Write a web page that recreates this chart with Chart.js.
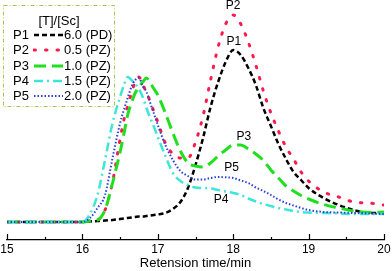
<!DOCTYPE html>
<html>
<head>
<meta charset="utf-8">
<script src="https://cdn.jsdelivr.net/npm/chart.js@4.4.0/dist/chart.umd.min.js"></script>
<style>
    body { margin: 0; background: #fff; font-family: "Liberation Sans", Arial, sans-serif; }
    #wrap { position: relative; width: 392px; height: 271px; }
    #legend { position: absolute; left: 3px; top: 5px; width: 112px; height: 102px; font-size: 13px; color: #000; }
    #legend svg { position: absolute; left: 0; top: 0; }
    #legend .title { position: absolute; left: 0; width: 112px; top: 8px; text-align: center; line-height: 15px; }
    #legend .row { position: absolute; left: 10px; height: 15px; line-height: 15px; white-space: nowrap; }
    #legend .row span, #legend .row canvas { position: absolute; top: 0; }
</style>
</head>
<body>
<div id="wrap">
    <canvas id="gpcChart"></canvas>
    <div id="legend"></div>
</div>
<script>
// retention time (min)
const times = [15, 15.5, 16.0, 16.1, 16.2, 16.3, 16.4, 16.5, 16.55, 16.6, 16.65, 16.7, 16.75, 16.8, 16.85, 16.9, 16.95,
    17.0, 17.1, 17.2, 17.3, 17.4, 17.5, 17.6, 17.7, 17.8, 17.9, 18.0, 18.1, 18.2, 18.3, 18.4, 18.5, 18.6, 18.7, 18.8, 18.9,
    19.0, 19.2, 19.4, 19.6, 19.8, 20.0];

// detector signal (arbitrary units)
const p1 = [18, 18, 18, 18.5, 19, 19.5, 20, 21, 21.5, 22, 22.5, 23, 23.5, 23.5, 24, 24.5, 25,
    25.5, 27, 31, 38, 52, 75, 102, 133, 158, 178, 190, 185, 172, 155, 132, 114, 96, 81, 68, 60,
    52, 42, 35, 30, 27, 27];
const p2 = [18, 18, 18, 19, 20, 30, 58, 101, 120, 134, 147, 158, 163, 155, 148, 138, 128,
    118, 97, 86, 82, 82, 98, 124, 160, 193, 216, 225, 216, 198, 175, 149, 127, 109, 93, 81, 68,
    59, 48, 43, 38, 37, 35];
const p3 = [18, 18, 18, 19, 20, 30, 57, 88, 106, 125, 137, 147, 153, 158, 162, 157, 151,
    145, 127, 107, 89, 77, 74, 73, 77, 84, 90, 95, 95, 91, 86, 79.5, 70, 62, 54, 49, 44.5,
    41, 35.5, 32, 29, 27.5, 28];
const p4 = [18, 18, 18, 26, 45, 80, 117, 143, 155, 163, 160, 156, 151, 143, 132, 122, 113,
    103, 84, 67, 59, 55, 52.5, 52, 51.5, 50, 48.5, 47, 45, 41.5, 38.5, 36, 34, 32, 30.5, 29, 28,
    27.5, 27, 26.5, 26, 26, 26];
const p5 = [18, 18, 18, 22, 32, 45, 82, 117, 130, 142, 153, 160, 162, 154, 148, 137, 126,
    115, 95, 80, 69, 64, 60.5, 60.5, 62, 63, 62.7, 62, 59.5, 57, 52.5, 49, 45, 40.5, 37, 34.5, 32,
    30, 28, 27.5, 27, 26.5, 26];

const seriesNames = ['P1', 'P2', 'P3', 'P4', 'P5'];
const ratios = ['6.0 (PD)', '0.5 (PZ)', '1.0 (PZ)', '1.5 (PZ)', '2.0 (PZ)'];
const legendTitle = '[T]/[Sc]';
const xTicks = [15, 16, 17, 18, 19, 20];

// peak labels placed in data units
const peakText = ['P2', 'P1', 'P3', 'P5', 'P4'];
const peakX = [18.0, 18.01, 18.14, 17.98, 17.84];
const peakY = [234, 198, 103, 72, 40];

const styles = [
    { color: '#000000', dash: [5, 3], width: 2.5, cap: 'butt' },
    { color: '#ff1a4b', dash: [1.5, 10], width: 3, cap: 'round' },
    { color: '#1ee01e', dash: [12, 6], width: 3, cap: 'butt' },
    { color: '#3ee6d8', dash: [9, 4, 2, 4], width: 2.5, cap: 'butt' },
    { color: '#2b3fd8', dash: [1.5, 2], width: 2, cap: 'butt' }
];

const allSeries = [p1, p2, p3, p4, p5];

const inwardTicks = {
    id: 'inwardTicks',
    afterDraw(chart) {
        const ctx = chart.ctx;
        const x = chart.scales.x;
        const bottom = chart.chartArea.bottom;
        ctx.save();
        ctx.strokeStyle = '#000';
        ctx.lineWidth = 1.2;
        for (let t = 15; t <= 20.001; t += 0.5) {
            const px = Math.round(x.getPixelForValue(t)) + 0.5;
            const len = Number.isInteger(Math.round(t * 10) / 10) ? 6 : 3;
            ctx.beginPath();
            ctx.moveTo(px, bottom);
            ctx.lineTo(px, bottom - len);
            ctx.stroke();
        }
        // peak labels
        ctx.fillStyle = '#000';
        ctx.font = '12px "Liberation Sans", Arial, sans-serif';
        ctx.textAlign = 'center';
        ctx.textBaseline = 'middle';
        peakText.forEach((txt, i) => {
            ctx.fillText(txt, x.getPixelForValue(peakX[i]), chart.scales.y.getPixelForValue(peakY[i]));
        });
        ctx.restore();
    }
};

function buildLegend() {
    const box = document.getElementById('legend');
    box.innerHTML = '<svg width="112" height="102"><rect x="0.5" y="0.5" width="111" height="101" fill="none" stroke="#a8c84a" stroke-width="1" stroke-dasharray="4 2 1 2"/></svg>';
    const title = document.createElement('div');
    title.className = 'title';
    title.textContent = legendTitle;
    box.appendChild(title);
    seriesNames.forEach((name, i) => {
        const row = document.createElement('div');
        row.className = 'row';
        row.style.top = (22 + i * 15.3) + 'px';
        const lab = document.createElement('span');
        lab.style.left = '0px';
        lab.textContent = name;
        const cv = document.createElement('canvas');
        cv.width = 30; cv.height = 15;
        cv.style.left = '20px';
        const c = cv.getContext('2d');
        const s = styles[i];
        c.strokeStyle = s.color;
        c.lineWidth = s.width;
        c.lineCap = s.cap;
        c.setLineDash(s.dash);
        c.beginPath();
        c.moveTo(1, 8);
        c.lineTo(30, 8);
        c.stroke();
        const val = document.createElement('span');
        val.style.left = '51px';
        val.textContent = ratios[i];
        row.appendChild(lab);
        row.appendChild(cv);
        row.appendChild(val);
        box.appendChild(row);
    });
}

function drawChart() {
    const ctx = document.getElementById('gpcChart').getContext('2d');
    new Chart(ctx, {
        type: 'line',
        data: {
            datasets: allSeries.map((vals, i) => ({
                label: seriesNames[i] + ' ' + ratios[i],
                data: times.map((t, k) => ({ x: t, y: vals[k] })),
                borderColor: styles[i].color,
                borderDash: styles[i].dash,
                borderWidth: styles[i].width,
                borderCapStyle: styles[i].cap,
                cubicInterpolationMode: 'monotone',
                pointRadius: 0,
                fill: false
            })).reverse()
        },
        options: {
            responsive: true,
            maintainAspectRatio: false,
            animation: false,
            layout: { padding: 0 },
            plugins: {
                legend: { display: false },
                tooltip: { enabled: false }
            },
            scales: {
                x: {
                    type: 'linear',
                    min: 15,
                    max: 20,
                    afterBuildTicks: axis => { axis.ticks = xTicks.map(v => ({ value: v })); },
                    afterFit: axis => {
                        axis.height = 31;
                        axis.paddingLeft = 7;
                        axis.paddingRight = 8;
                    },
                    grid: { display: false, drawTicks: false },
                    border: { display: true, color: '#000', width: 1.2 },
                    ticks: {
                        padding: 2,
                        color: '#000',
                        maxRotation: 0,
                        font: { family: '"Liberation Sans", Arial, sans-serif', size: 12 }
                    },
                    title: {
                        display: true,
                        text: 'Retension time/min',
                        color: '#000',
                        padding: { top: 0, bottom: 0 },
                        font: { family: '"Liberation Sans", Arial, sans-serif', size: 13, lineHeight: 1.1 }
                    }
                },
                y: { display: false, min: 0, max: 240 }
            }
        },
        plugins: [inwardTicks]
    });
}

buildLegend();
drawChart();
</script>
</body>
</html>
